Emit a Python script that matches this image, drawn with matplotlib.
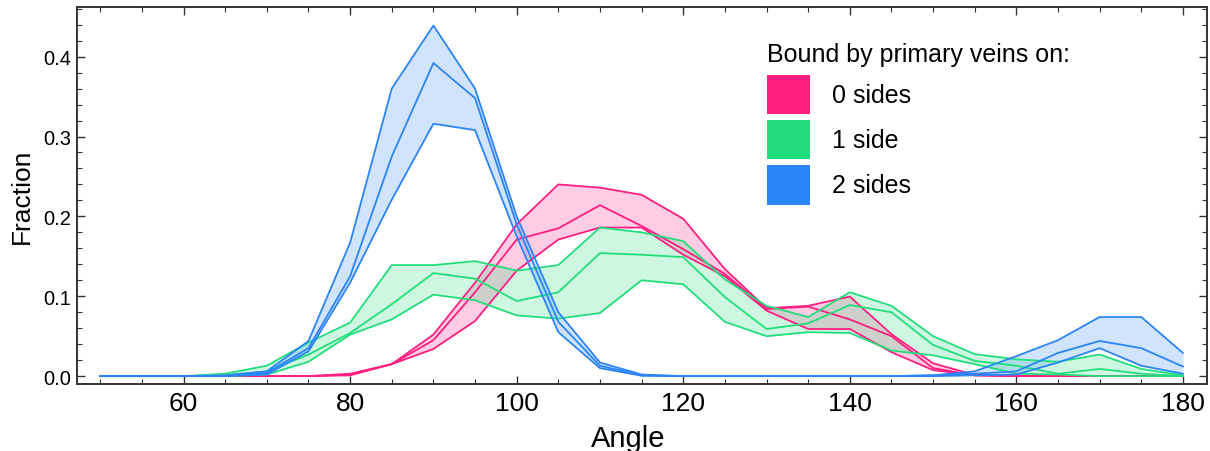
import numpy as np
import matplotlib.pyplot as plt
from matplotlib.patches import Rectangle
from matplotlib.ticker import MultipleLocator

plt.rcParams["font.family"] = ["Liberation Sans", "DejaVu Sans"]

angles = list(range(50, 181, 5))

# 0 sides
pink_upper = [0, 0, 0, 0, 0, 0, 0.003, 0.015, 0.052, 0.117, 0.19, 0.24, 0.236, 0.227,
              0.197, 0.134, 0.085, 0.088, 0.0996, 0.0525, 0.016, 0.0015, 0, 0, 0, 0, 0]
pink_mean = [0, 0, 0, 0, 0, 0, 0.002, 0.015, 0.045, 0.105, 0.171, 0.185, 0.214, 0.188,
             0.159, 0.128, 0.084, 0.087, 0.071, 0.05, 0.01, 0.001, 0, 0, 0, 0, 0]
pink_lower = [0, 0, 0, 0, 0, 0, 0.001, 0.015, 0.034, 0.069, 0.132, 0.171, 0.186, 0.186,
              0.152, 0.125, 0.082, 0.059, 0.059, 0.03, 0.0075, 0.001, 0, 0, 0, 0, 0]

# 1 side
green_upper = [0, 0, 0, 0.003, 0.013, 0.042, 0.067, 0.139, 0.139, 0.144, 0.132, 0.139, 0.186,
               0.18, 0.169, 0.121, 0.088, 0.074, 0.105, 0.088, 0.05, 0.0275, 0.021, 0.018,
               0.027, 0.009, 0.001]
green_mean = [0, 0, 0, 0.001, 0.006, 0.027, 0.054, 0.09, 0.129, 0.122, 0.094, 0.105, 0.154,
              0.152, 0.149, 0.099, 0.059, 0.066, 0.089, 0.08, 0.039, 0.019, 0.013, 0.003,
              0.009, 0.003, 0]
green_lower = [0, 0, 0, 0, 0.002, 0.018, 0.052, 0.071, 0.102, 0.095, 0.076, 0.072, 0.079,
               0.12, 0.115, 0.068, 0.05, 0.055, 0.054, 0.032, 0.026, 0.015, 0.003, 0.002,
               0, 0, 0]

# 2 sides
blue_upper = [0, 0, 0, 0.001, 0.006, 0.044, 0.167, 0.36, 0.439, 0.36, 0.2, 0.08, 0.017,
              0.002, 0, 0, 0, 0, 0, 0, 0.001, 0.006, 0.025, 0.045, 0.074, 0.074, 0.029]
blue_mean = [0, 0, 0, 0, 0.004, 0.035, 0.125, 0.275, 0.392, 0.348, 0.19, 0.068, 0.013,
             0.001, 0, 0, 0, 0, 0, 0, 0.001, 0.003, 0.006, 0.029, 0.044, 0.035, 0.012]
blue_lower = [0, 0, 0, 0, 0.002, 0.031, 0.117, 0.221, 0.316, 0.308, 0.175, 0.055, 0.01,
              0.0005, 0, 0, 0, 0, 0, 0, 0, 0.001, 0.002, 0.017, 0.035, 0.013, 0.003]

labels = ["0 sides", "1 side", "2 sides"]
colors = ["#ff1f80", "#22dd7c", "#2b84f8"]

series = [
    (pink_upper, pink_mean, pink_lower),
    (green_upper, green_mean, green_lower),
    (blue_upper, blue_mean, blue_lower),
]

fig = plt.figure(figsize=(12.1, 4.52), dpi=100)
ax = fig.add_axes([0.0636, 0.148, 0.934, 0.834])

for (up, mid, lo), color in zip(series, colors):
    ax.fill_between(angles, lo, up, color=color, alpha=0.22, linewidth=0)
    for vals in (up, mid, lo):
        ax.plot(angles, vals, color=color, linewidth=1.3)

ax.set_xlim(47.2, 182.9)
ax.set_ylim(-0.01, 0.462)
ax.xaxis.set_minor_locator(MultipleLocator(5))
ax.yaxis.set_minor_locator(MultipleLocator(0.02))
ax.set_xticks(range(60, 181, 20))
ax.set_yticks([0.0, 0.1, 0.2, 0.3, 0.4])
ax.set_yticklabels(["0.0", "0.1", "0.2", "0.3", "0.4"])

ax.tick_params(which="both", direction="in", top=True, right=True, color="#333333")
ax.tick_params(which="major", length=6, width=1.0)
ax.tick_params(which="minor", length=3.5, width=0.8)
ax.tick_params(axis="x", labelsize=19, pad=5)
ax.tick_params(axis="y", labelsize=14.5, pad=4)

for spine in ax.spines.values():
    spine.set_color("#333333")
    spine.set_linewidth(1.4)

ax.set_xlabel("Angle", fontsize=21, labelpad=0)
ax.xaxis.set_label_coords(0.488, -0.105)
ax.set_ylabel("Fraction", fontsize=19, labelpad=7)

# legend drawn by hand in axes coordinates
ax.text(0.611, 0.875, "Bound by primary veins on:", transform=ax.transAxes,
        fontsize=18, va="center", ha="left")
box_x, box_w, box_h = 0.611, 0.038, 0.104
box_tops = [0.820, 0.700, 0.580]
for top, color, label in zip(box_tops, colors, labels):
    ax.add_patch(Rectangle((box_x, top - box_h), box_w, box_h, transform=ax.transAxes,
                           facecolor=color, edgecolor="none"))
    ax.text(0.668, top - box_h / 2, label, transform=ax.transAxes,
            fontsize=18, va="center", ha="left")

plt.savefig("out.png")
